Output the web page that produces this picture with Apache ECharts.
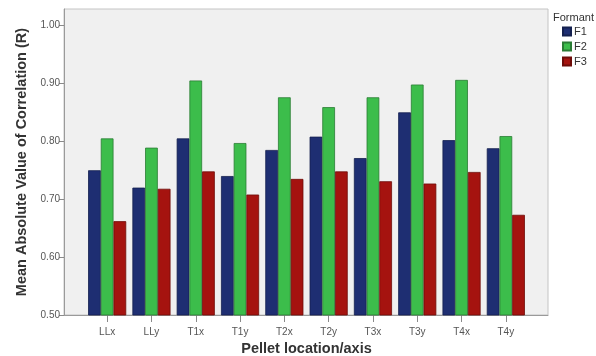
<!DOCTYPE html>
<html>
<head>
<meta charset="utf-8">
<script src="https://cdn.jsdelivr.net/npm/echarts@6/dist/echarts.min.js"></script>
<style>
  html, body { margin: 0; padding: 0; background: #ffffff; }
  #chart { width: 596px; height: 356px; }
</style>
</head>
<body>
<div id="chart"></div>
<script>
// Pellet locations along the x axis
const categories = ['LLx', 'LLy', 'T1x', 'T1y', 'T2x', 'T2y', 'T3x', 'T3y', 'T4x', 'T4y'];

// Mean absolute correlation per formant
const f1Values = [0.750, 0.720, 0.805, 0.740, 0.785, 0.808, 0.771, 0.850, 0.802, 0.788];
const f2Values = [0.805, 0.789, 0.905, 0.797, 0.876, 0.859, 0.876, 0.898, 0.906, 0.809];
const f3Values = [0.662, 0.718, 0.748, 0.708, 0.735, 0.748, 0.731, 0.727, 0.747, 0.673];

// Y axis tick labels
const yTicks = [0.50, 0.60, 0.70, 0.80, 0.90, 1.00];

const Y_MIN = 0.5;
const Y_MAX = 1.0285;
const font = 'Liberation Sans, Arial, sans-serif';

const chart = echarts.init(document.getElementById('chart'), null, { renderer: 'canvas' });

function barSeries(name, data, color, border) {
  return {
    name: name,
    type: 'bar',
    xAxisIndex: 1,
    yAxisIndex: 1,
    data: data,
    barGap: '0%',
    barCategoryGap: '14%',
    itemStyle: { color: color, borderColor: border, borderWidth: 0.8 },
    emphasis: { disabled: true }
  };
}

chart.setOption({
  animation: false,
  backgroundColor: '#ffffff',
  textStyle: { fontFamily: font },
  grid: [
    // framed plot background spanning the full axis range
    { left: 64, top: 9, width: 484, height: 306, show: true, outerBoundsMode: 'none',
      backgroundColor: '#f0f0f0', borderColor: '#c4c4c4', borderWidth: 1 },
    // inset band area holding the bar groups
    { left: 85, top: 9, width: 443, height: 306, outerBoundsMode: 'none' }
  ],
  xAxis: [
    { gridIndex: 0, type: 'value', min: 0, max: 1,
      axisLine: { show: true, lineStyle: { color: '#9a9a9a', width: 1 } },
      axisTick: { show: false }, axisLabel: { show: false }, splitLine: { show: false } },
    { gridIndex: 1, type: 'category', data: categories,
      name: 'Pellet location/axis', nameLocation: 'middle', nameGap: 26,
      nameTextStyle: { fontSize: 14.5, fontWeight: 'bold', color: '#333', fontFamily: font },
      axisLine: { show: false },
      axisTick: { show: true, alignWithLabel: true, length: 7, lineStyle: { color: '#8a8a8a' } },
      axisLabel: { fontSize: 10, color: '#555', margin: 12, fontFamily: font },
      splitLine: { show: false } }
  ],
  yAxis: [
    { gridIndex: 0, type: 'value', min: Y_MIN, max: Y_MAX,
      name: 'Mean Absolute Value of Correlation (R)', nameLocation: 'middle', nameGap: 31,
      nameTextStyle: { fontSize: 14.5, fontWeight: 'bold', color: '#333', fontFamily: font },
      axisLine: { show: true, lineStyle: { color: '#9a9a9a' } },
      axisTick: { show: true, length: 5, customValues: yTicks, lineStyle: { color: '#8a8a8a' } },
      axisLabel: { fontSize: 10, color: '#555', margin: 4, customValues: yTicks,
        formatter: v => v.toFixed(2), fontFamily: font },
      splitLine: { show: false } },
    { gridIndex: 1, type: 'value', min: Y_MIN, max: Y_MAX, show: false }
  ],
  title: {
    text: 'Formant', left: 553, top: 12,
    textStyle: { fontSize: 11, fontWeight: 'normal', color: '#333', fontFamily: font },
    padding: 0
  },
  legend: {
    orient: 'vertical', left: 562, top: 26, padding: 0,
    itemWidth: 8, itemHeight: 8, itemGap: 4, icon: 'rect',
    textStyle: { fontSize: 11, color: '#333', padding: [0, 0, 0, -2], fontFamily: font },
    data: ['F1', 'F2', 'F3']
  },
  series: [
    barSeries('F1', f1Values, '#1e2e72', '#14204f'),
    barSeries('F2', f2Values, '#3cbd4b', '#2a7c34'),
    barSeries('F3', f3Values, '#a5130f', '#6e0c09')
  ]
});
</script>
</body>
</html>
